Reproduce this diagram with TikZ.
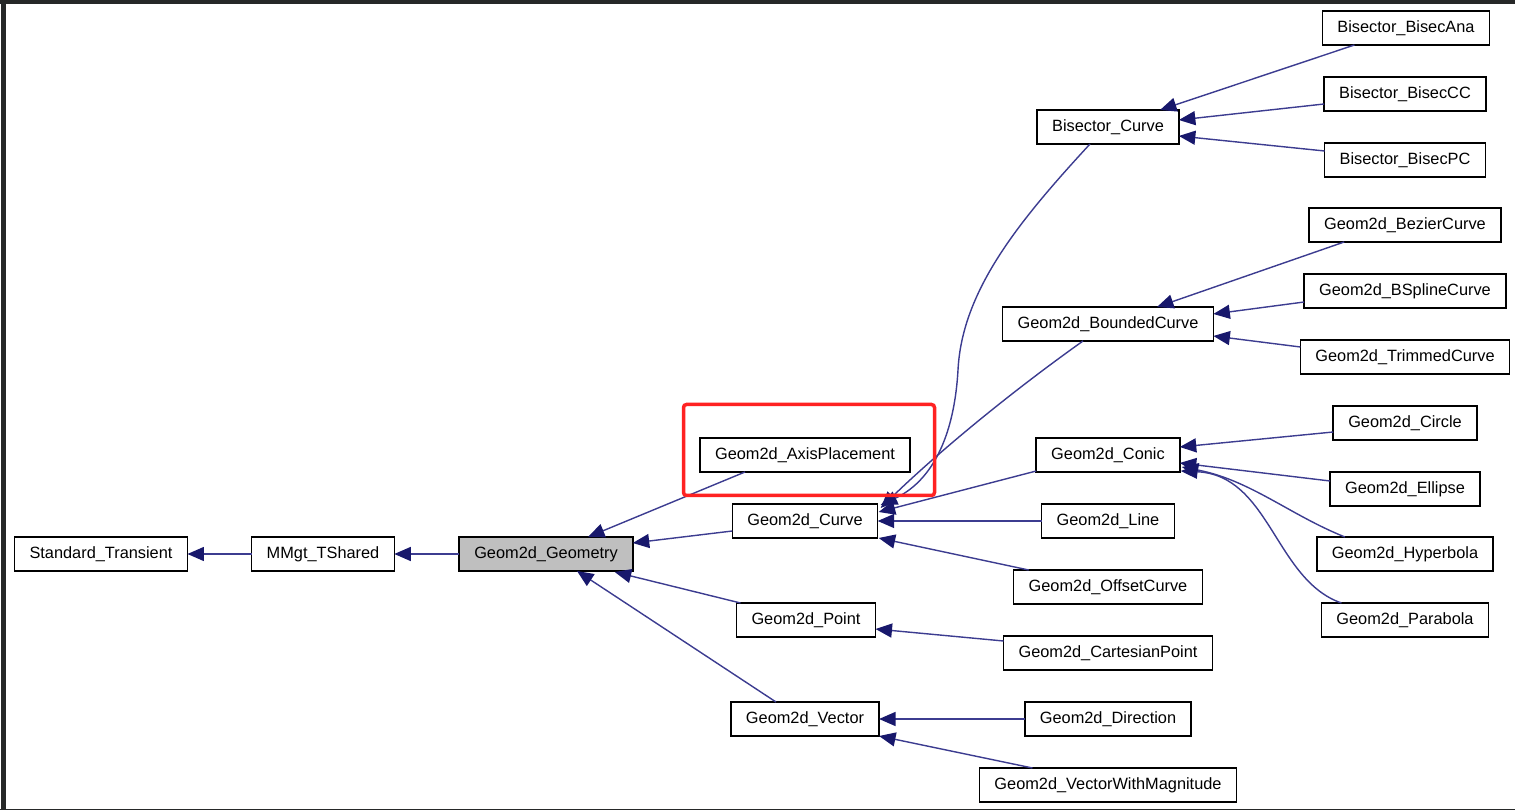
\documentclass[tikz,border=0pt]{standalone}
\usepackage{fontspec}
\setmainfont{Liberation Sans}
\usetikzlibrary{arrows.meta, calc}
\definecolor{edgeblue}{HTML}{3C3C90}
\definecolor{headblue}{HTML}{18186C}
\definecolor{framedark}{HTML}{262828}
\definecolor{markred}{HTML}{FF2222}
\definecolor{basegray}{HTML}{BFBFBF}
\tikzset{
  cls/.style={rectangle, draw=black, fill=#1, line width=0.9pt, outer sep=0pt,
              minimum height=0.68cm, inner xsep=0.3cm, inner ysep=0pt,
              font=\fontsize{9.3}{11}\selectfont},
  cls/.default=white,
  inh/.style={arrows={-Triangle[length=0.33cm, width=0.28cm, color=headblue]},
              draw=edgeblue, line width=0.8pt},
}

\begin{document}
\begin{tikzpicture}[x=0.02cm, y=-0.02cm]
  \useasboundingbox (0,0) rectangle (1515,810);

  % window frame
  \fill[framedark] (0,0) rectangle (1515,4.5);
  \fill[framedark] (1,0) rectangle (6,810);
  \fill[framedark] (0,808.5) rectangle (1515,810);

  % base classes
  \node[cls] (trans) at (101,554) {Standard\_Transient};
  \node[cls] (mmgt) at (323,554) {MMgt\_TShared};
  \node[cls=basegray] (geo) at (546,554) {Geom2d\_Geometry};

  % first level
  \node[cls] (axis) at (805,455) {Geom2d\_AxisPlacement};
  \node[cls] (curve) at (805,521) {Geom2d\_Curve};
  \node[cls] (point) at (806,620) {Geom2d\_Point};
  \node[cls] (vector) at (805,719) {Geom2d\_Vector};

  % second level
  \node[cls] (bisc) at (1108,127) {Bisector\_Curve};
  \node[cls] (bnd) at (1108,324) {Geom2d\_BoundedCurve};
  \node[cls] (conic) at (1108,455) {Geom2d\_Conic};
  \node[cls] (line) at (1108,521) {Geom2d\_Line};
  \node[cls] (offset) at (1108,587) {Geom2d\_OffsetCurve};
  \node[cls] (cart) at (1108,653) {Geom2d\_CartesianPoint};
  \node[cls] (dir) at (1108,719) {Geom2d\_Direction};
  \node[cls] (vwm) at (1108,785) {Geom2d\_VectorWithMagnitude};

  % third level
  \node[cls] (ana) at (1406,28) {Bisector\_BisecAna};
  \node[cls] (bcc) at (1405,94) {Bisector\_BisecCC};
  \node[cls] (bpc) at (1405,160) {Bisector\_BisecPC};
  \node[cls] (bez) at (1405,225) {Geom2d\_BezierCurve};
  \node[cls] (bsp) at (1405,291) {Geom2d\_BSplineCurve};
  \node[cls] (trim) at (1405,357) {Geom2d\_TrimmedCurve};
  \node[cls] (circ) at (1405,423) {Geom2d\_Circle};
  \node[cls] (ell) at (1405,489) {Geom2d\_Ellipse};
  \node[cls] (hyp) at (1405,554) {Geom2d\_Hyperbola};
  \node[cls] (par) at (1405,620) {Geom2d\_Parabola};

  % inheritance
  \draw[inh] (mmgt.west) -- (trans.east);
  \draw[inh] (geo.west) -- (mmgt.east);
  \draw[inh] ($(axis.south)+(-60,0)$) -- ($(geo.north)+(42,0)$);
  \draw[inh] ($(curve.west)+(0,10)$) -- ($(geo.east)+(0,-11)$);
  \draw[inh] ($(point.north west)+(4,0)$) -- ($(geo.south east)+(-18,1)$);
  \draw[inh] ($(vector.north)+(-29,0)$) -- ($(geo.south)+(31,0)$);

  \draw[inh] ($(bisc.south)+(-18,0)$) .. controls (1020,220) and (962,290) .. (958,370)
    .. controls (954,440) and (930,482) .. ($(curve.north east)+(3,1)$);
  \draw[inh] ($(bnd.south)+(-25,0)$) .. controls (1000,400) and (930,460) .. ($(curve.north east)+(3,4)$);
  \draw[inh] ($(conic.south west)+(0,-1)$) -- ($(curve.north east)+(1,8)$);
  \draw[inh] (line.west) -- (curve.east);
  \draw[inh] ($(offset.north west)+(15,0)$) -- ($(curve.south east)+(1,0)$);
  \draw[inh] ($(cart.west)+(0,-12)$) -- ($(point.east)+(0,9)$);
  \draw[inh] (dir.west) -- (vector.east);
  \draw[inh] ($(vwm.north west)+(53,0)$) -- (vector.south east);

  \draw[inh] ($(ana.south west)+(32,0)$) -- ($(bisc.north)+(52,0)$);
  \draw[inh] ($(bcc.west)+(0,10)$) -- ($(bisc.east)+(0,-7)$);
  \draw[inh] ($(bpc.west)+(0,-9)$) -- ($(bisc.east)+(0,9)$);
  \draw[inh] ($(bez.south west)+(35,0)$) -- ($(bnd.north)+(49,0)$);
  \draw[inh] ($(bsp.west)+(0,11)$) -- ($(bnd.east)+(0,-10)$);
  \draw[inh] ($(trim.west)+(0,-10)$) -- ($(bnd.east)+(0,12)$);
  \draw[inh] ($(circ.west)+(0,9)$) -- ($(conic.east)+(0,-8)$);
  \draw[inh] ($(ell.west)+(0,-8)$) -- ($(conic.east)+(0,8)$);
  \draw[inh] ($(hyp.north west)+(28,0)$) .. controls (1290,515) and (1250,480) .. ($(conic.south east)+(2,-5)$);
  \draw[inh] ($(par.north west)+(20,0)$) .. controls (1275,580) and (1270,475) .. ($(conic.south east)+(1,-1)$);

  % highlight
  \draw[markred, line width=0.07cm, rounded corners=0.06cm] (683.5,404.5) rectangle (934.5,495.5);
\end{tikzpicture}
\end{document}
